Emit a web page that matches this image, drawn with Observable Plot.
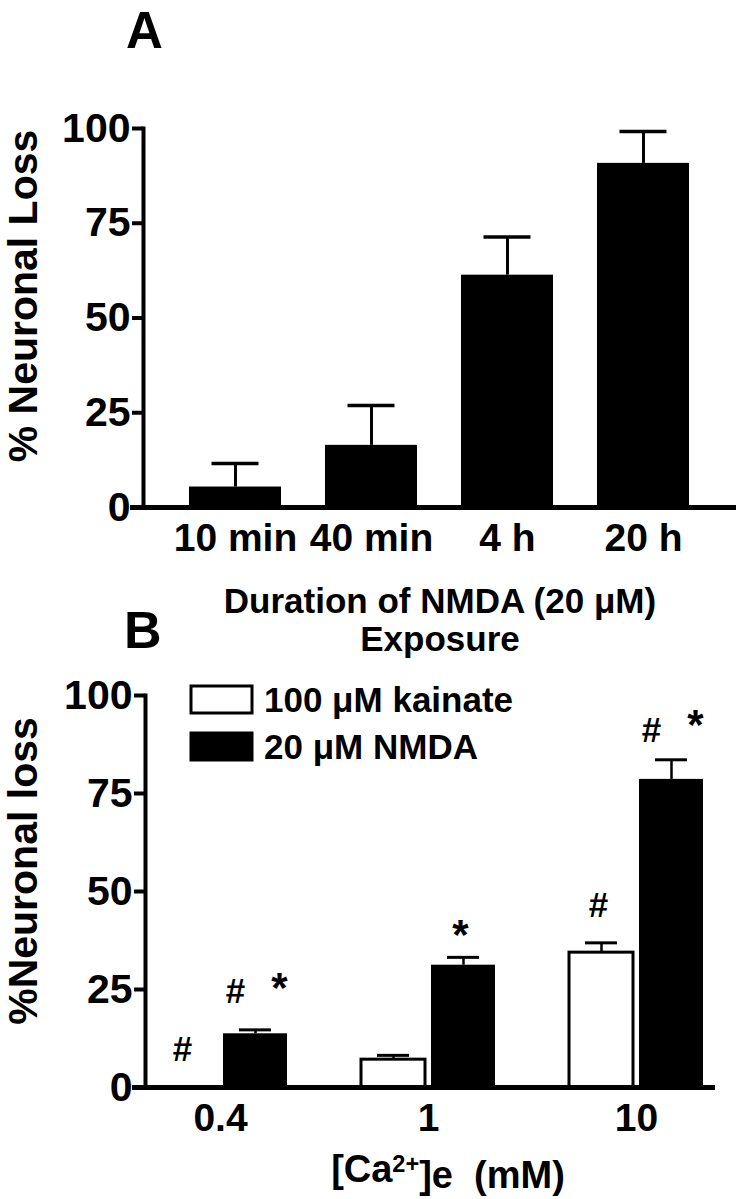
<!DOCTYPE html>
<html>
<head>
<meta charset="utf-8">
<script src="https://cdn.jsdelivr.net/npm/d3@7"></script>
<script src="https://cdn.jsdelivr.net/npm/@observablehq/plot@0.6"></script>
<style>
  body { margin: 0; background: #fff; }
  #wrap { position: relative; width: 742px; height: 1199px; overflow: hidden; background: #fff; }
  #wrap > svg { position: absolute; left: 0; }
</style>
</head>
<body>
<div id="wrap"></div>
<script>
// ---------------- Panel A data ----------------
const durations = ["10 min", "40 min", "4 h", "20 h"];
const lossA = [5.4, 16.4, 61.3, 90.8];
const semA = [6.2, 10.5, 10.1, 8.4];
const yTicks = [0, 25, 50, 75, 100];

// ---------------- Panel B data ----------------
const calcium = ["0.4", "1", "10"];
const seriesNames = ["100 μM kainate", "20 μM NMDA"];
const kainate = [0, 7.1, 34.4];
const kainateErr = [0, 1.1, 2.5];
const nmda = [13.7, 31.2, 78.6];
const nmdaErr = [1.0, 2.0, 5.0];

// significance symbols (group, bar, side of bar, symbol, height in % units)
const sigGroup = ["0.4", "0.4", "0.4", "1", "10", "10", "10"];
const sigBar = ["kainate", "NMDA", "NMDA", "NMDA", "kainate", "NMDA", "NMDA"];
const sigSide = ["center", "left", "right", "center", "center", "left", "right"];
const sigSymbol = ["#", "#", "*", "*", "#", "#", "*"];
const sigY = [9.5, 24.4, 27.7, 41.3, 46.4, 91, 95];

// ---------------- rendering ----------------
const FONT = '"Liberation Sans", Arial, Helvetica, sans-serif';
const wrap = document.getElementById("wrap");

const dataA = durations.map((d, i) => ({d, v: lossA[i], e: semA[i]}));

const plotA = Plot.plot({
  width: 742,
  height: 575,
  marginTop: 128,
  marginBottom: 68,
  marginLeft: 143,
  marginRight: 6,
  style: {fontFamily: FONT, fontWeight: "bold", background: "transparent", color: "black"},
  x: {domain: durations, paddingInner: 0.321, paddingOuter: 0.325, label: null},
  y: {domain: [0, 100], label: null},
  marks: [
    Plot.barY(dataA, {x: "d", y: "v", fill: "black"}),
    Plot.ruleX(dataA, {x: "d", y1: "v", y2: (d) => d.v + d.e, stroke: "black", strokeWidth: 3}),
    Plot.tickY(dataA, {x: "d", y: (d) => d.v + d.e, stroke: "black", strokeWidth: 3.5, insetLeft: 22.5, insetRight: 22.5}),
    Plot.axisY(yTicks, {tickSize: 11, tickPadding: 2, strokeWidth: 4, fontSize: 41, fontWeight: "bold", label: null}),
    Plot.axisX({tickSize: 0, tickPadding: 16, fontSize: 39, fontWeight: "bold", label: null}),
    Plot.frame({anchor: "left", stroke: "black", strokeWidth: 4}),
    Plot.ruleY([0], {stroke: "black", strokeWidth: 5, insetLeft: -13})
  ]
});
plotA.style.top = "0px";
wrap.appendChild(plotA);

const kData = calcium.map((g, i) => ({g, v: kainate[i], e: kainateErr[i]}));
const nData = calcium.map((g, i) => ({g, v: nmda[i], e: nmdaErr[i]}));
const sigData = sigGroup.map((g, i) => ({g, bar: sigBar[i], side: sigSide[i], s: sigSymbol[i], y: sigY[i]}));

const barOffset = {kainate: -35, NMDA: 35};
const sideOffset = {left: -20, center: -3, right: 24};
const sigMarks = [];
for (const bar of ["kainate", "NMDA"]) {
  for (const side of ["left", "center", "right"]) {
    for (const sym of ["#", "*"]) {
      const sub = sigData.filter((d) => d.bar === bar && d.side === side && d.s === sym);
      if (!sub.length) continue;
      sigMarks.push(Plot.text(sub, {
        x: "g", y: "y", text: "s",
        dx: barOffset[bar] + sideOffset[side],
        dy: sym === "*" ? 10 : 0,
        fontSize: sym === "*" ? 42 : 35,
        fontWeight: "bold",
        fill: "black"
      }));
    }
  }
}

const plotB = Plot.plot({
  width: 742,
  height: 545,
  marginTop: 95,
  marginBottom: 58,
  marginLeft: 145,
  marginRight: 27,
  style: {fontFamily: FONT, fontWeight: "bold", background: "transparent", color: "black"},
  x: {domain: calcium, paddingInner: 0.356, paddingOuter: 0.048, align: 0.4, label: null},
  y: {domain: [0, 100], label: null},
  marks: [
    Plot.barY(kData, {x: "g", y: "v", fill: "white", stroke: "black", strokeWidth: 3, insetRight: 70}),
    Plot.barY(nData, {x: "g", y: "v", fill: "black", insetLeft: 70}),
    Plot.ruleX(kData, {x: "g", y1: "v", y2: (d) => d.v + d.e, stroke: "black", strokeWidth: 2.5, dx: -35}),
    Plot.tickY(kData.filter((d) => d.e > 0), {x: "g", y: (d) => d.v + d.e, stroke: "black", strokeWidth: 3, insetLeft: 16, insetRight: 86}),
    Plot.ruleX(nData, {x: "g", y1: "v", y2: (d) => d.v + d.e, stroke: "black", strokeWidth: 2.5, dx: 35}),
    Plot.tickY(nData, {x: "g", y: (d) => d.v + d.e, stroke: "black", strokeWidth: 3, insetLeft: 86, insetRight: 16}),
    ...sigMarks,
    Plot.axisY(yTicks, {tickSize: 11, tickPadding: 2, strokeWidth: 4, fontSize: 41, fontWeight: "bold", label: null}),
    Plot.axisX({tickSize: 0, tickPadding: 16, fontSize: 39, fontWeight: "bold", label: null}),
    Plot.frame({anchor: "left", stroke: "black", strokeWidth: 4}),
    Plot.ruleY([0], {stroke: "black", strokeWidth: 5, insetLeft: -13})
  ]
});
plotB.style.top = "600px";
wrap.appendChild(plotB);

// ---------------- titles, labels, legend (overlay) ----------------
const ov = d3.select(wrap).append("svg")
  .attr("width", 742).attr("height", 1199)
  .style("top", "0px")
  .attr("font-family", FONT)
  .attr("font-weight", "bold")
  .attr("fill", "black");

function txt(s, x, y, size, anchor = "start", rotate = 0) {
  return ov.append("text")
    .attr("transform", `translate(${x},${y}) rotate(${rotate})`)
    .attr("font-size", size)
    .attr("text-anchor", anchor)
    .text(s);
}

txt("A", 126, 48, 51);
txt("% Neuronal Loss", 37, 296, 41, "middle", -90);
txt("Duration of NMDA (20 μM)", 440, 613, 35, "middle");
txt("Exposure", 440, 651, 35, "middle");

txt("B", 124, 648, 52);
txt("%Neuronal loss", 37, 871, 41, "middle", -90);

// legend
const legendFill = ["white", "black"];
const legendTop = [686, 733];
seriesNames.forEach((name, i) => {
  ov.append("rect")
    .attr("x", 191).attr("y", legendTop[i])
    .attr("width", 61).attr("height", 27)
    .attr("fill", legendFill[i])
    .attr("stroke", "black").attr("stroke-width", 3);
  txt(name, 264, legendTop[i] + 26, 35);
});

// x title of B with superscript
const xt = ov.append("text")
  .attr("x", 448).attr("y", 1182)
  .attr("font-size", 38)
  .attr("text-anchor", "middle");
xt.append("tspan").text("[Ca");
xt.append("tspan").attr("dy", "-0.42em").attr("font-size", "0.62em").text("2+");
xt.append("tspan").attr("dy", "0.42em").text("]e\u00a0\u00a0(mM)");
</script>
</body>
</html>
